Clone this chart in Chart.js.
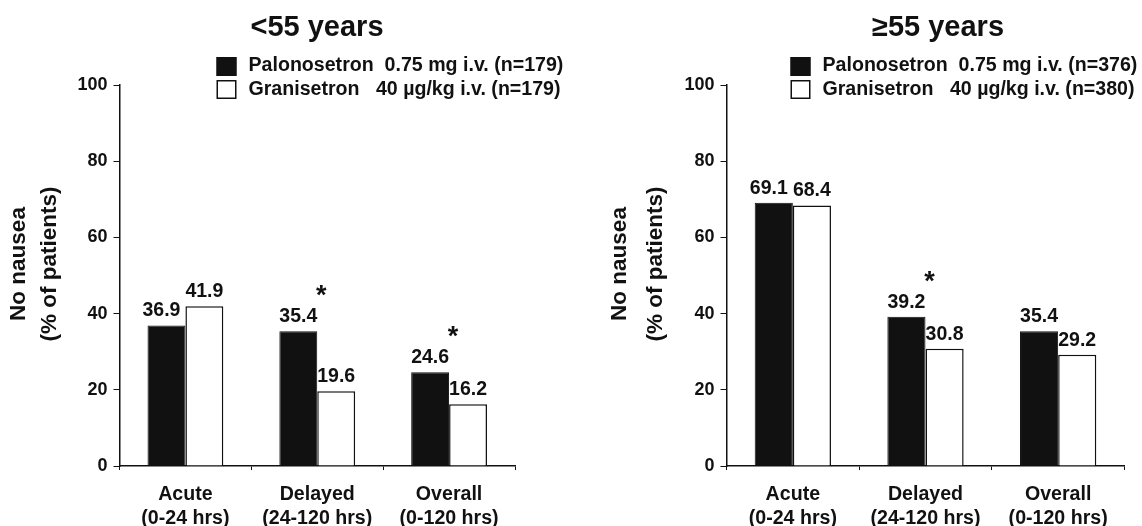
<!DOCTYPE html>
<html><head><meta charset="utf-8">
<script src="https://cdn.jsdelivr.net/npm/chart.js@4"></script>
<style>
html,body{margin:0;padding:0;background:#fff;overflow:hidden;}
#wrap{position:relative;width:1142px;height:526px;}
.panel{position:absolute;top:0;width:571px;height:526px;}
</style></head><body>
<div id="wrap">
<div class="panel" style="left:0"><canvas id="c1" width="571" height="526"></canvas></div>
<div class="panel" style="left:571px"><canvas id="c2" width="571" height="526"></canvas></div>
</div>
<script>
// ---- data ----
const categories = [['Acute', '(0-24 hrs)'], ['Delayed', '(24-120 hrs)'], ['Overall', '(0-120 hrs)']];
const yTicks = [0, 20, 40, 60, 80, 100];

const titleUnder55 = '<55 years';
const legendUnder55 = ['Palonosetron  0.75 mg i.v. (n=179)', 'Granisetron   40 \u00b5g/kg i.v. (n=179)'];
const paloUnder55 = [36.9, 35.4, 24.6];
const granUnder55 = [41.9, 19.6, 16.2];
const sigUnder55 = [false, true, true];

const titleOver55 = '\u226555 years';
const legendOver55 = ['Palonosetron  0.75 mg i.v. (n=376)', 'Granisetron   40 \u00b5g/kg i.v. (n=380)'];
const paloOver55 = [69.1, 39.2, 35.4];
const granOver55 = [68.4, 30.8, 29.2];
const sigOver55 = [false, true, false];

const yTitle = ['No nausea', '(% of patients)'];

// ---- style ----
const FONT = '"Liberation Sans", Arial, Helvetica, sans-serif';
const INK = '#111111';

const decor = {
  id: 'decor',
  afterDatasetsDraw(chart, args, o) {
    const ctx = chart.ctx;
    const xs = chart.scales.x, ys = chart.scales.y;
    ctx.save();
    ctx.fillStyle = INK;
    // title
    ctx.font = `bold 29px ${FONT}`;
    ctx.textAlign = 'center'; ctx.textBaseline = 'alphabetic';
    ctx.fillText(o.title, o.titleX, 36);
    // legend
    ctx.font = `bold 19.6px ${FONT}`;
    ctx.textAlign = 'left';
    chart.data.datasets.forEach((ds, i) => {
      const y0 = 57 + i * 23;
      ctx.fillStyle = ds.backgroundColor;
      ctx.fillRect(o.legendX, y0, 20, 19);
      ctx.strokeStyle = INK; ctx.lineWidth = 1.5;
      ctx.strokeRect(o.legendX + 0.75, y0 + 0.75, 18.5, 17.5);
      ctx.fillStyle = INK;
      ctx.fillText(ds.label, o.legendX + 32, 70.5 + i * 24.5);
    });
    // y title
    ctx.font = `bold 22.5px ${FONT}`;
    ctx.textAlign = 'center'; ctx.textBaseline = 'middle';
    o.yTitle.forEach((t, i) => {
      ctx.save();
      ctx.translate(o.yTitleX[i], 264);
      ctx.rotate(-Math.PI / 2);
      ctx.fillText(t, 0, 0);
      ctx.restore();
    });
    // value labels
    ctx.font = `bold 19.5px ${FONT}`;
    ctx.textAlign = 'center'; ctx.textBaseline = 'alphabetic';
    const d0 = chart.data.datasets[0].data, d1 = chart.data.datasets[1].data;
    chart.data.datasets.forEach((ds, i) => {
      const meta = chart.getDatasetMeta(i);
      meta.data.forEach((bar, j) => {
        let dx = 0;
        if (i === 0 && Math.abs(d0[j] - d1[j]) < 6) dx = -5;
        ctx.fillText(ds.data[j].toFixed(1), bar.x + dx, bar.y - 9);
      });
    });
    // significance asterisks
    ctx.font = `bold 27px ${FONT}`;
    o.sig.forEach((s, j) => {
      if (!s) return;
      const v = Math.max(d0[j], d1[j]);
      ctx.fillText('*', xs.getPixelForValue(j) + 4, ys.getPixelForValue(v) - 27);
    });
    ctx.restore();
  }
};

function makeChart(id, palo, gran, legend, title, sig, cfg) {
  return new Chart(document.getElementById(id), {
    type: 'bar',
    data: {
      labels: categories,
      datasets: [
        { label: legend[0], data: palo, backgroundColor: INK, borderColor: INK, borderWidth: 1 },
        { label: legend[1], data: gran, backgroundColor: '#ffffff', borderColor: INK, borderWidth: 1.5 }
      ]
    },
    options: {
      responsive: false,
      animation: false,
      datasets: { bar: { categoryPercentage: 0.575, barPercentage: 1.0 } },
      layout: { padding: { top: 85, right: cfg.padRight, bottom: 0, left: 0 } },
      plugins: {
        legend: { display: false },
        title: { display: false },
        tooltip: { enabled: false },
        decor: { title: title, titleX: cfg.titleX, legendX: cfg.legendX, yTitle: yTitle, yTitleX: cfg.yTitleX, sig: sig }
      },
      scales: {
        x: {
          grid: { display: true, drawOnChartArea: false, offset: true, tickLength: 4, color: INK, lineWidth: 1 },
          border: { display: true, color: INK, width: 1.5 },
          ticks: { font: { family: FONT, size: 19.6, weight: 'bold', lineHeight: 1.2 }, color: INK, padding: 13, maxRotation: 0, autoSkip: false },
          afterFit(s) { s.height = 60; }
        },
        y: {
          min: 0, max: 100,
          afterBuildTicks(s) { s.ticks = yTicks.map(v => ({ value: v })); },
          grid: { display: true, drawOnChartArea: false, tickLength: 6, color: INK, lineWidth: 1 },
          border: { display: true, color: INK, width: 1.5 },
          ticks: { font: { family: FONT, size: 18, weight: 'bold' }, color: INK, padding: 6 },
          afterFit(s) { s.width = cfg.axisLeft; }
        }
      }
    },
    plugins: [decor]
  });
}

makeChart('c1', paloUnder55, granUnder55, legendUnder55, titleUnder55, sigUnder55,
  { axisLeft: 119.5, padRight: 56, titleX: 317, legendX: 216.5, yTitleX: [19, 50] });
makeChart('c2', paloOver55, granOver55, legendOver55, titleOver55, sigOver55,
  { axisLeft: 155.5, padRight: 17.5, titleX: 367, legendX: 219.5, yTitleX: [49, 85] });
</script>
</body></html>
